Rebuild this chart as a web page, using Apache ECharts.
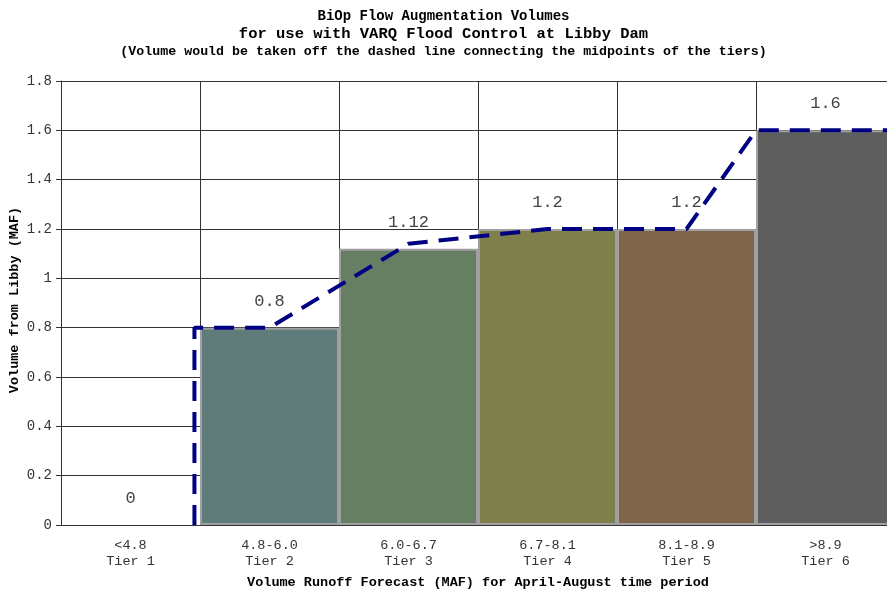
<!DOCTYPE html>
<html>
<head>
<meta charset="utf-8">
<script src="https://cdn.jsdelivr.net/npm/echarts@6/dist/echarts.min.js"></script>
<style>html,body{margin:0;padding:0;background:#fff;}#c{width:887px;height:594px;}</style>
</head>
<body>
<div id="c"></div>
<script>
var ranges = ['<4.8', '4.8-6.0', '6.0-6.7', '6.7-8.1', '8.1-8.9', '>8.9'];
var tiers = ['Tier 1', 'Tier 2', 'Tier 3', 'Tier 4', 'Tier 5', 'Tier 6'];
var volumes = [0, 0.8, 1.12, 1.2, 1.2, 1.6];
var barColors = ['#ffffff', '#5f7c7b', '#667f62', '#7f7f4c', '#7f644a', '#5e5e5e'];
// dashed line vertices: [position along tiers (0..6), volume]
var dashX = [0.96, 0.96, 1.5, 2.5, 3.5, 4.5, 5.0, 6.0];
var dashY = [0, 0.8, 0.8, 1.14, 1.2, 1.2, 1.6, 1.6];
var yTicks = [0, 0.2, 0.4, 0.6, 0.8, 1, 1.2, 1.4, 1.6, 1.8];
var yTitle = 'Volume from Libby (MAF)';

var mono = '"Liberation Mono", "DejaVu Sans Mono", monospace';
var cats = ranges.map(function (r, i) { return r + '\n' + tiers[i]; });
var dashData = dashX.map(function (x, i) { return [x, dashY[i]]; });

var chart = echarts.init(document.getElementById('c'), null, {renderer: 'canvas'});
chart.setOption({
  animation: false,
  backgroundColor: '#ffffff',
  title: [
    {text: 'BiOp Flow Augmentation Volumes', left: 'center', top: 4,
     textStyle: {fontFamily: mono, fontSize: 14, fontWeight: 'bold', color: '#000'}},
    {text: 'for use with VARQ Flood Control at Libby Dam', left: 'center', top: 21,
     textStyle: {fontFamily: mono, fontSize: 15.5, fontWeight: 'bold', color: '#000'}},
    {text: '(Volume would be taken off the dashed line connecting the midpoints of the tiers)', left: 'center', top: 40,
     textStyle: {fontFamily: mono, fontSize: 13.3, fontWeight: 'bold', color: '#000'}}
  ],
  graphic: [
    {type: 'text', x: 15, y: 300, rotation: Math.PI / 2,
     style: {text: yTitle, fontFamily: mono, fontSize: 13.5, fontWeight: 'bold', fill: '#000',
             align: 'center', verticalAlign: 'middle'}}
  ],
  grid: {left: 61, top: 81, width: 834, bottom: 69, containLabel: false, outerBoundsMode: 'none'},
  xAxis: [
    {type: 'category', data: cats, boundaryGap: true,
     axisLine: {show: true, lineStyle: {color: '#333', width: 1}},
     axisTick: {show: false},
     splitLine: {show: true, lineStyle: {color: '#333', width: 1}},
     axisLabel: {fontFamily: mono, fontSize: 13.5, color: '#333', lineHeight: 16, margin: 12},
     name: 'Volume Runoff Forecast (MAF) for April-August time period',
     nameLocation: 'middle', nameGap: 51, nameMoveOverlap: false,
     nameTextStyle: {fontFamily: mono, fontSize: 13.5, fontWeight: 'bold', color: '#000'}},
    {type: 'value', min: 0, max: 6, show: false}
  ],
  yAxis: {
    type: 'value', min: 0, max: 1.8, interval: 0.2,
    axisLine: {show: true, lineStyle: {color: '#333', width: 1}},
    axisTick: {show: true, length: 5, lineStyle: {color: '#333'}},
    splitLine: {show: true, lineStyle: {color: '#333', width: 1}},
    axisLabel: {fontFamily: mono, fontSize: 14, color: '#333', margin: 9,
      formatter: function (v) { var r = Math.round(v * 10) / 10; return yTicks.indexOf(r) >= 0 ? String(r) : ''; }}
  },
  series: [
    {type: 'bar', xAxisIndex: 0, barWidth: '100%', barCategoryGap: 0,
     data: volumes.map(function (v, i) {
       return {value: v, itemStyle: {color: barColors[i], borderColor: i === 0 ? 'transparent' : '#a0a0a0', borderWidth: i === 0 ? 0 : 2}};
     }),
     label: {show: true, position: 'top', distance: 18, fontFamily: mono, fontSize: 17, color: '#444',
       formatter: function (p) { return String(p.value); }},
     z: 2},
    {type: 'line', xAxisIndex: 1, data: dashData, symbol: 'none',
     lineStyle: {color: '#000080', width: 4, type: [20, 11]}, z: 5}
  ]
});
</script>
</body>
</html>
